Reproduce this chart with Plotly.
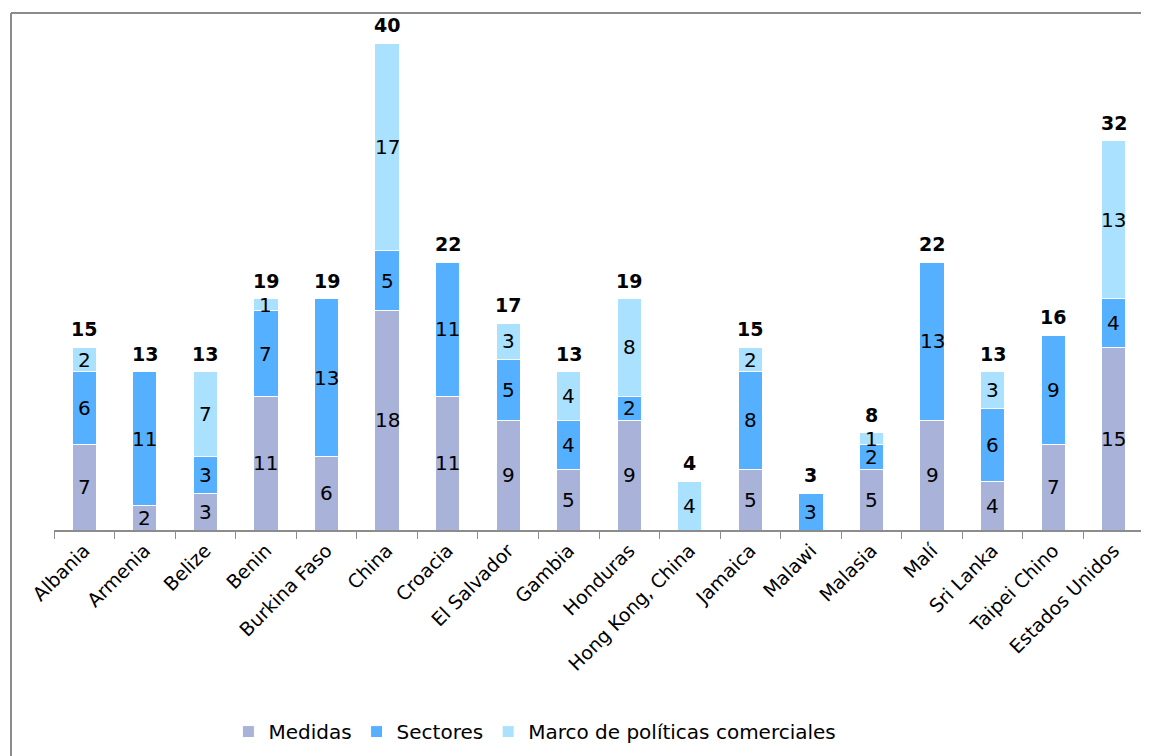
import plotly.graph_objects as go

categories = ["Albania", "Armenia", "Belize", "Benin", "Burkina Faso", "China", "Croacia",
              "El Salvador", "Gambia", "Honduras", "Hong Kong, China", "Jamaica", "Malawi",
              "Malasia", "Malí", "Sri Lanka", "Taipei Chino", "Estados Unidos"]
medidas = [7, 2, 3, 11, 6, 18, 11, 9, 5, 9, 0, 5, 0, 5, 9, 4, 7, 15]
sectores = [6, 11, 3, 7, 13, 5, 11, 5, 4, 2, 0, 8, 3, 2, 13, 6, 9, 4]
marco = [2, 0, 7, 1, 0, 17, 0, 3, 4, 8, 4, 2, 0, 1, 0, 3, 0, 13]
series_names = ["Medidas", "Sectores", "Marco de políticas comerciales"]
colors = ["#A9B2D8", "#55B0FF", "#AAE1FF"]

totals = [a + b + c for a, b, c in zip(medidas, sectores, marco)]

FONT = "DejaVu Sans"

fig = go.Figure()
base = [0] * len(categories)
for name, vals, col in zip(series_names, [medidas, sectores, marco], colors):
    yv = [v if v else None for v in vals]
    fig.add_trace(go.Bar(
        x=categories, y=yv, name=name,
        marker=dict(color=col, line=dict(color="white", width=1)),
        textposition="none", hoverinfo="x+y+name",
    ))
    # value labels centred in each segment
    for i, (c, v) in enumerate(zip(categories, vals)):
        if v:
            fig.add_annotation(x=c, y=base[i] + v / 2, text=str(v), showarrow=False,
                               xanchor="center", yanchor="middle",
                               font=dict(family=FONT, size=20, color="black"))
        base[i] += v

for c, t in zip(categories, totals):
    fig.add_annotation(x=c, y=t, text=f"<b>{t}</b>", showarrow=False,
                       xanchor="center", yanchor="bottom", yshift=5,
                       font=dict(family=FONT, size=19, color="black"))

# frame lines (top and left)
x_left = (11 - 54) / 1090
y_top = (533 - 13) / 502
fig.add_shape(type="line", xref="paper", yref="paper", x0=x_left, x1=1.1, y0=y_top, y1=y_top,
              line=dict(color="#8C8C8C", width=2))
fig.add_shape(type="line", xref="paper", yref="paper", x0=x_left, x1=x_left, y0=y_top, y1=-1,
              line=dict(color="#8C8C8C", width=2))

fig.update_layout(
    barmode="stack", bargap=0.6,
    width=1141, height=748,
    margin=dict(l=46, r=5, t=23, b=223),
    plot_bgcolor="white", paper_bgcolor="white",
    font=dict(family=FONT, size=19, color="black"),
    legend=dict(orientation="h", x=0.160, y=-0.404, xanchor="left", yanchor="middle",
                font=dict(family=FONT, size=20), traceorder="normal"),
    xaxis=dict(tickangle=-45, showline=True, linecolor="#8C8C8C", linewidth=2,
               ticks="outside", tickson="boundaries", ticklen=7, tickcolor="#8C8C8C",
               tickfont=dict(family=FONT, size=19), showgrid=False,
               range=[-0.5, len(categories) - 0.5]),
    yaxis=dict(range=[0, 41], visible=False, showgrid=False),
)

fig.write_html("out.html")
